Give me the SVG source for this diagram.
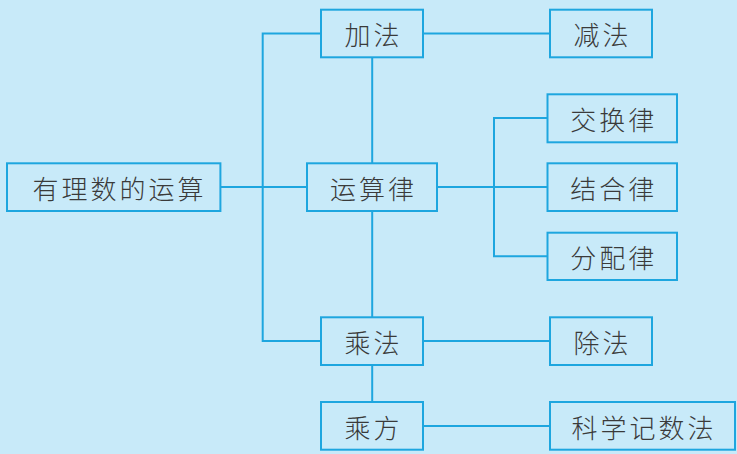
<svg xmlns="http://www.w3.org/2000/svg" width="737" height="454" viewBox="0 0 737 454">
<style>
.box{fill:none;stroke:#1ea6df;stroke-width:2}
.ln{fill:none;stroke:#1ea6df;stroke-width:2}
.t{font-family:"Noto Sans CJK SC","Noto Sans",sans-serif;font-size:26px;font-weight:300;fill:#3a3a3a;text-anchor:middle;dominant-baseline:central;letter-spacing:3px}
</style>
<rect width="737" height="454" fill="#c8eaf9"/>
<g id="connectors">
<polyline class="ln" points="321,33.5 262.7,33.5 262.7,341 321,341"/>
<line class="ln" x1="220.4" y1="187" x2="307" y2="187"/>
<line class="ln" x1="372.2" y1="57.3" x2="372.2" y2="163.3"/>
<line class="ln" x1="372.2" y1="211" x2="372.2" y2="317.3"/>
<line class="ln" x1="372.2" y1="365" x2="372.2" y2="402"/>
<line class="ln" x1="423" y1="33.5" x2="550" y2="33.5"/>
<line class="ln" x1="437" y1="187" x2="547.5" y2="187"/>
<polyline class="ln" points="547.5,118 494,118 494,256.3 547.5,256.3"/>
<line class="ln" x1="423" y1="341" x2="550" y2="341"/>
<line class="ln" x1="423" y1="426" x2="550" y2="426"/>
</g>
<g id="n-jiafa"><rect class="box" x="321" y="9.7" width="102" height="47.6"/><text class="t" x="373.5" y="33.5">加法</text></g>
<g id="n-jianfa"><rect class="box" x="550" y="9.7" width="102" height="47.6"/><text class="t" x="602.5" y="33.5">减法</text></g>
<g id="n-root"><rect class="box" x="7" y="163.3" width="213.4" height="47.7"/><text class="t" x="119.5" y="187">有理数的运算</text></g>
<g id="n-yunsuanlv"><rect class="box" x="307" y="163.3" width="130" height="47.7"/><text class="t" x="373.5" y="187">运算律</text></g>
<g id="n-jiaohuan"><rect class="box" x="547.5" y="94.3" width="129.5" height="48"/><text class="t" x="613.8" y="118">交换律</text></g>
<g id="n-jiehe"><rect class="box" x="547.5" y="163.3" width="129.5" height="47.7"/><text class="t" x="613.8" y="187">结合律</text></g>
<g id="n-fenpei"><rect class="box" x="547.5" y="232.7" width="129.5" height="47.3"/><text class="t" x="613.8" y="256.3">分配律</text></g>
<g id="n-chengfa"><rect class="box" x="321" y="317.3" width="102" height="47.7"/><text class="t" x="373.5" y="341">乘法</text></g>
<g id="n-chufa"><rect class="box" x="550" y="317.3" width="102" height="47.7"/><text class="t" x="602.5" y="341">除法</text></g>
<g id="n-chengfang"><rect class="box" x="321" y="402" width="102" height="47.7"/><text class="t" x="373.5" y="426">乘方</text></g>
<g id="n-kexue"><rect class="box" x="550" y="402" width="185" height="47.7"/><text class="t" x="644" y="426">科学记数法</text></g>
</svg>
